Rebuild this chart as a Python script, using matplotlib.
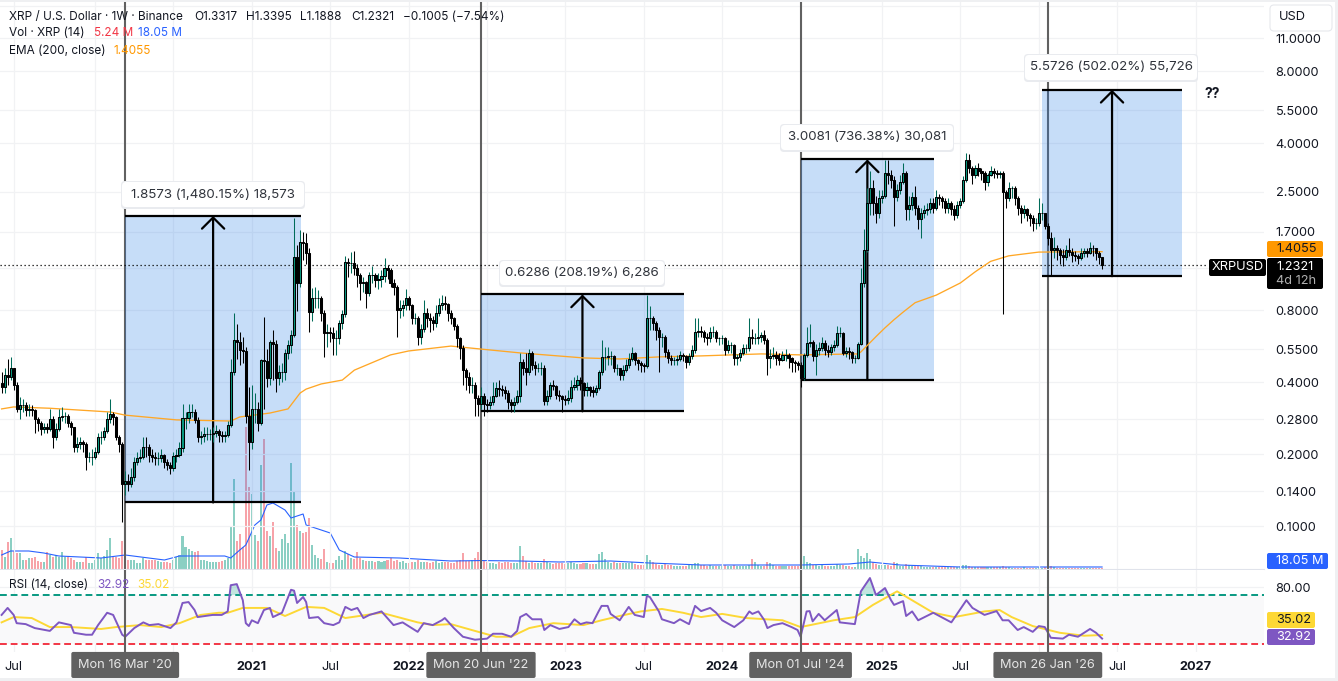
#!/usr/bin/env python
# XRP / USD weekly chart, with measure boxes, volume and RSI panes
import numpy as np
import pandas as pd
import matplotlib
matplotlib.use("Agg")
import matplotlib.pyplot as plt
from matplotlib.patches import Rectangle, FancyBboxPatch
from matplotlib.ticker import NullLocator

plt.rcParams["font.family"] = ["Inter", "DejaVu Sans"]

# weekly bars start here
start_date = "2019-06-03"
first_open = 0.395

closes = [
    .38,.43,.42,.46,.39,.31,.32,.32,.305,.31,
    .305,.28,.27,.255,.26,.255,.28,.235,.255,.285,
    .29,.29,.27,.26,.215,.22,.225,.22,.195,.195,
    .195,.205,.235,.235,.25,.28,.295,.285,.235,.22,
    .15,.155,.15,.16,.185,.193,.195,.215,.214,.198,
    .195,.193,.193,.198,.185,.18,.175,.196,.198,.212,
    .283,.283,.30,.30,.278,.235,.238,.243,.243,.243,
    .245,.25,.24,.238,.24,.265,.44,.60,.59,.545,
    .54,.29,.225,.31,.31,.27,.495,.49,.415,.59,
    .58,.415,.44,.44,.53,.57,.63,1.33,1.04,1.54,
    1.53,1.39,.785,.90,.90,.90,.78,.64,.65,.64,
    .61,.61,.71,.77,1.27,1.26,1.26,1.20,1.12,1.04,
    1.05,.945,1.12,1.12,1.07,1.08,1.11,1.20,1.18,1.04,
    1.0,.80,.82,.84,.90,.84,.745,.745,.62,.67,
    .78,.74,.73,.71,.78,.84,.855,.85,.78,.74,
    .69,.61,.555,.45,.42,.39,.39,.343,.325,.35,
    .323,.32,.33,.35,.377,.375,.37,.36,.33,.32,
    .33,.35,.485,.46,.44,.53,.47,.46,.46,.46,
    .335,.35,.39,.385,.355,.35,.34,.338,.343,.38,
    .39,.41,.395,.37,.38,.37,.365,.378,.44,.51,
    .51,.515,.515,.46,.46,.43,.45,.47,.50,.53,
    .495,.48,.47,.465,.74,.74,.71,.66,.62,.62,
    .535,.505,.495,.495,.50,.52,.515,.485,.515,.545,
    .65,.655,.65,.62,.61,.65,.65,.61,.61,.61,
    .545,.57,.57,.505,.51,.53,.555,.555,.615,.61,
    .61,.62,.63,.60,.505,.515,.52,.505,.495,.52,
    .52,.505,.485,.48,.47,.415,.52,.585,.59,.515,
    .545,.555,.585,.545,.535,.56,.57,.645,.645,.53,
    .54,.535,.505,.505,.58,1.04,1.43,2.25,2.6,2.25,
    2.05,2.35,2.4,3.0,2.95,2.8,2.38,2.55,2.75,3.0,
    2.13,2.2,2.38,2.15,1.92,2.05,2.1,2.13,2.25,2.15,
    2.38,2.35,2.3,2.15,2.25,2.13,2.0,2.2,2.3,2.8,
    3.4,3.15,2.95,3.15,3.05,3.0,2.75,2.95,3.05,3.0,
    2.98,3.0,2.5,2.35,2.6,2.6,2.35,2.15,2.05,2.12,
    2.0,1.95,1.85,1.85,2.05,2.05,1.8,1.6,1.43,1.45,
    1.43,1.36,1.33,1.43,1.4,1.36,1.35,1.32,1.39,1.41,
    1.39,1.46,1.45,1.39,1.3326,1.2321,
]
highs = [
    .44,.46,.50,.51,.46,.40,.345,.34,.33,.325,
    .32,.31,.285,.275,.27,.27,.31,.29,.27,.31,
    .315,.30,.295,.275,.26,.235,.235,.23,.225,.205,
    .21,.215,.245,.25,.26,.30,.34,.30,.29,.24,
    .225,.17,.165,.175,.195,.205,.21,.235,.235,.22,
    .21,.205,.205,.21,.20,.19,.185,.205,.21,.225,
    .325,.30,.325,.325,.31,.285,.25,.26,.26,.255,
    .26,.265,.255,.25,.25,.275,.50,.78,.70,.65,
    .62,.56,.38,.39,.36,.33,.50,.75,.55,.60,
    .66,.60,.47,.48,.55,.60,.66,1.95,1.50,1.73,
    1.70,1.68,1.45,.99,1.0,.97,.92,.80,.70,.68,
    .68,.66,.73,.80,1.35,1.32,1.40,1.42,1.25,1.15,
    1.10,1.06,1.16,1.22,1.15,1.15,1.18,1.32,1.24,1.20,
    1.08,1.02,.88,.88,.98,.92,.85,.78,.76,.70,
    .88,.82,.78,.76,.84,.90,.93,.92,.86,.80,
    .75,.70,.62,.57,.46,.44,.42,.40,.355,.38,
    .36,.34,.35,.40,.40,.41,.39,.385,.37,.34,
    .345,.37,.53,.50,.53,.55,.54,.49,.48,.485,
    .47,.37,.40,.41,.39,.37,.355,.355,.37,.41,
    .42,.43,.42,.40,.40,.385,.385,.39,.45,.60,
    .56,.56,.54,.52,.475,.46,.47,.50,.53,.56,
    .535,.50,.49,.48,.93,.83,.76,.72,.68,.64,
    .63,.55,.52,.51,.52,.54,.53,.52,.53,.57,
    .74,.74,.69,.66,.64,.68,.69,.66,.62,.63,
    .62,.60,.59,.58,.525,.55,.575,.58,.74,.67,
    .64,.74,.65,.66,.61,.55,.56,.54,.53,.54,
    .55,.53,.51,.495,.49,.485,.53,.68,.70,.60,
    .58,.59,.62,.60,.57,.58,.60,.69,.68,.65,
    .56,.56,.54,.52,.59,1.2,1.75,2.6,3.05,2.8,
    2.4,2.55,2.55,3.4,3.4,3.1,2.9,2.7,2.95,3.3,
    3.05,2.4,2.5,2.65,2.2,2.15,2.2,2.25,2.35,2.35,
    2.55,2.45,2.4,2.35,2.35,2.3,2.2,2.3,2.35,2.9,
    3.65,3.6,3.2,3.25,3.3,3.15,3.05,3.0,3.2,3.15,
    3.1,3.05,3.05,2.55,2.75,2.65,2.65,2.4,2.2,2.2,
    2.15,2.05,2.0,1.95,2.35,2.25,2.05,1.85,1.7,1.62,
    1.5,1.45,1.44,1.5,1.6,1.45,1.42,1.38,1.46,1.46,
    1.46,1.54,1.5,1.46,1.41,1.3395,
]
lows = [
    .36,.36,.39,.41,.37,.30,.28,.30,.29,.29,
    .29,.245,.25,.24,.245,.245,.25,.213,.23,.25,
    .275,.27,.26,.24,.205,.205,.21,.205,.172,.185,
    .18,.19,.20,.22,.23,.245,.27,.265,.23,.205,
    .104,.135,.14,.145,.155,.18,.185,.19,.195,.185,
    .185,.18,.18,.185,.175,.172,.165,.17,.185,.195,
    .205,.255,.27,.285,.27,.225,.22,.225,.23,.23,
    .225,.235,.225,.225,.225,.235,.26,.43,.50,.47,
    .48,.27,.172,.21,.27,.25,.265,.31,.38,.39,
    .41,.365,.39,.40,.41,.50,.53,.62,.79,1.0,
    1.3,1.25,.65,.72,.82,.82,.72,.51,.56,.59,
    .52,.52,.58,.67,.75,1.1,1.15,1.12,1.0,.88,
    .95,.82,.92,1.04,1.0,.98,1.0,1.05,1.08,1.0,
    .93,.62,.74,.76,.80,.80,.70,.70,.57,.58,
    .65,.68,.65,.66,.68,.76,.80,.80,.72,.70,
    .66,.56,.50,.39,.37,.36,.36,.29,.29,.31,
    .29,.30,.31,.32,.345,.35,.35,.34,.31,.30,
    .30,.325,.33,.43,.39,.43,.45,.43,.44,.43,
    .32,.32,.34,.37,.34,.335,.30,.32,.325,.33,
    .37,.37,.37,.35,.35,.35,.345,.355,.37,.43,
    .45,.47,.47,.44,.43,.41,.41,.44,.46,.49,
    .47,.45,.44,.44,.46,.66,.66,.60,.44,.56,
    .51,.48,.47,.47,.47,.49,.49,.46,.47,.50,
    .53,.62,.62,.59,.57,.59,.62,.59,.57,.58,
    .52,.53,.53,.47,.47,.49,.52,.53,.54,.58,
    .58,.58,.59,.58,.43,.46,.50,.47,.47,.49,
    .49,.46,.44,.44,.45,.38,.41,.51,.56,.49,
    .43,.52,.54,.52,.51,.52,.54,.56,.62,.52,
    .51,.50,.48,.48,.50,.57,1.0,1.4,2.0,2.0,
    1.85,1.95,2.25,2.35,2.7,2.6,1.8,2.3,2.45,2.7,
    1.9,1.9,2.1,2.0,1.75,1.6,1.95,2.0,2.05,2.05,
    2.1,2.2,2.15,2.05,2.05,2.0,1.9,1.95,2.15,2.25,
    2.75,3.0,2.7,2.85,2.9,2.8,2.55,2.65,2.9,2.85,
    2.85,2.85,.77,2.15,2.3,2.35,2.2,2.0,1.85,1.95,
    1.88,1.8,1.72,1.75,1.8,1.9,1.75,1.5,1.11,1.32,
    1.3,1.25,1.22,1.3,1.35,1.27,1.28,1.25,1.3,1.33,
    1.33,1.37,1.35,1.3,1.25,1.1888,
]
# weekly volume, millions
volumes = [
    171,110,246,276,165,140,140,80,85,95,
    100,110,70,66,66,153,125,110,125,110,
    150,110,110,95,80,66,66,66,105,50,
    50,80,140,95,120,170,280,110,110,100,
    252,140,85,80,80,50,55,95,80,80,
    80,80,70,60,65,65,55,80,110,125,
    297,195,183,165,150,160,85,80,70,66,
    66,66,60,70,80,95,381,810,255,312,
    200,1281,741,675,306,250,936,1170,345,300,
    426,186,160,270,315,231,951,696,396,342,
    327,336,456,216,126,96,90,177,60,50,
    50,80,120,80,165,135,100,90,153,100,
    80,75,70,75,65,70,60,70,85,95,
    75,85,65,70,55,55,60,65,80,60,
    65,60,55,60,70,55,60,65,60,55,
    55,70,85,141,75,70,80,100,150,85,
    70,60,55,50,45,60,55,60,65,50,
    50,55,207,120,70,55,60,55,50,50,
    90,65,50,45,50,50,55,45,50,60,
    55,45,45,50,50,45,45,45,135,156,
    90,60,55,60,55,50,50,55,50,60,
    45,40,35,40,126,85,60,45,40,40,
    50,40,35,30,30,25,30,30,35,40,
    50,55,40,35,30,35,30,25,25,25,
    35,30,30,35,30,25,25,25,40,87,
    60,35,30,25,60,50,35,30,25,30,
    30,25,25,25,30,60,117,60,55,40,
    35,30,35,30,25,30,25,45,35,40,
    25,25,20,20,177,117,100,141,90,60,
    45,40,35,40,35,30,66,50,30,30,
    45,40,30,25,25,25,20,20,20,20,
    20,20,20,20,20,20,18,18,25,40,
    38,28,22,20,18,18,18,20,22,20,
    18,18,28,18,15,12,10,10,12,15,
    10,12,12,12,15,10,15,60,25,15,
    12,10,10,10,10,10,8,8,8,8,
    8,8,6,6,6,5.24,
]

# lines read at their turning points: week number and value
ema_weeks = [0,4,16,36,41,58,76,79,89,95,99,101,106,113,117,129,135,149,159,172,193,205,218,232,252,265,284,285,290,293,296,299,303,310,318,323,328,334,344,365]
ema_values = [.309,.315,.311,.30,.291,.278,.275,.286,.297,.309,.36,.374,.393,.408,.449,.52,.54,.566,.55,.53,.505,.50,.51,.515,.525,.52,.525,.535,.62,.675,.73,.785,.86,.925,1.04,1.16,1.28,1.35,1.40,1.4055]

vol_ma_weeks = [0,3,9,14,19,33,41,54,59,74,76,79,81,84,86,88,90,94,96,100,101,109,112,117,132,149,159,172,185,202,215,232,265,281,288,298,318,347,365]
vol_ma_values = [126,162,162,144,117,99,126,81,117,117,99,171,216,396,441,576,594,531,459,495,396,324,171,108,99,72,76,72,63,72,54,36,36,45,63,36,18,18,18.05]

rsi_weeks = [0,2,4,5,8,11,16,19,23,24,28,30,32,35,37,40,41,44,47,49,52,56,58,60,62,64,65,70,73,75,76,78,80,81,82,83,85,87,89,90,93,96,97,98,100,101,102,105,107,110,112,114,116,118,120,122,126,130,133,138,140,143,146,147,150,153,157,161,163,166,169,171,172,174,176,179,180,182,185,188,190,192,194,196,198,199,201,202,205,208,210,213,214,215,218,219,223,225,228,230,232,235,237,239,243,246,248,249,251,253,254,256,259,262,264,265,267,268,269,271,273,277,278,283,285,288,290,293,295,296,299,300,302,304,309,315,320,322,326,330,332,334,337,339,342,344,346,348,352,354,357,359,361,363,365]
rsi_values = [49.6,56,49.6,43,42.3,39.5,37.6,43.6,41.6,36.4,35.2,35.2,41.6,51.5,49.6,35.2,34,39.5,43.6,41.6,42.3,39.5,43.6,61,62,54,47.8,49.6,49.6,52.7,83,84.6,64,43,40.9,45.2,43,54,56,47.8,51.5,76.7,75.5,61,67.7,62,47,47.8,43,41.6,43.6,57,54,56,47,49.6,52.7,41.6,43.6,37,43,41.6,45.2,47,39.5,34,32.3,32.9,35.8,35.8,34,37.6,47.8,50.5,46,46,38.2,41.6,38.9,40.2,46,42.3,43.6,43,52.7,58,58,50.5,45.2,57,49.6,47.8,68.9,67.7,52.7,46,43,46,42.3,58,53,56,51.5,45.2,40.2,45.2,52.7,50.5,52.7,45.2,39.5,41.6,43,40.2,38.2,34,52.7,53,44.4,50.5,45.2,54,43.6,42.3,74.6,94,70,79,64,59,63,48.7,52.7,45.2,51.5,43.6,64,56,49.6,53,45.2,45.2,38.2,40.2,37,40.9,40.2,33.4,32.9,35.2,34,36.4,38.9,36.4,32.92]

rsi_ma_weeks = [0,4,10,16,23,33,38,46,53,59,66,72,75,80,88,94,101,107,114,126,138,143,149,157,164,169,175,183,193,199,205,212,219,226,232,239,247,259,265,276,283,289,297,309,316,326,331,335,342,351,359,365]
rsi_ma_values = [43.6,47.8,47,40.2,40.2,38.9,40.2,41.6,40.2,43,49.6,51.5,51.5,56,56,48.7,57,56,47,51.5,43.6,41.6,42.3,37.6,34,34,39.5,43,41.6,45.2,48.7,52.7,55,51.5,47.8,50.5,47,45.2,40.2,45.2,47.8,59,74.6,51.5,47.8,52.7,54,47.8,40.9,36.4,34.6,35.02]

# measure tool boxes: first week, last week, base price, top price
measure_starts = [41, 159, 265, 345.1]
measure_ends = [99.3, 226.3, 309.3, 391.5]
measure_bases = [.12548, .30194, .4085, 1.1100]
measure_tops = [1.9828, .9305, 3.4166, 6.6826]
measure_labels = ["1.8573 (1,480.15%) 18,573", "0.6286 (208.19%) 6,286",
                  "3.0081 (736.38%) 30,081", "5.5726 (502.02%) 55,726"]

event_dates = ["2020-03-16", "2022-06-20", "2024-07-01", "2026-01-26"]
event_labels = ["Mon 16 Mar '20", "Mon 20 Jun '22", "Mon 01 Jul '24", "Mon 26 Jan '26"]

price_ticks = [15, 11, 8, 5.5, 4, 2.5, 1.7, 1.2, .8, .55, .4, .28, .2, .14, .1]
price_tick_labels = ["", "11.0000", "8.0000", "5.5000", "4.0000", "2.5000", "1.7000", "",
                     "0.8000", "0.5500", "0.4000", "0.2800", "0.2000", "0.1400", "0.1000"]
time_ticks = ["2019-07-01", "2020-01-06", "2020-07-06", "2021-01-04", "2021-07-05", "2022-01-03",
              "2022-07-04", "2023-01-02", "2023-07-03", "2024-01-01", "2024-07-01", "2025-01-06",
              "2025-07-07", "2026-01-05", "2026-07-06", "2027-01-04"]
# blanks are the ticks that sit under the date tags
time_labels = ["Jul", "", "", "2021", "Jul", "2022", "", "2023", "Jul", "2024", "",
               "2025", "Jul", "", "Jul", "2027"]

W, H = 1338, 681
INK = "#131722"
TEAL = "#089981"
RED = "#f23645"
BLUE = "#2962ff"
PURPLE = "#7e57c2"
YELLOW = "#fdd835"
ORANGE = "#ff9800"
GRID = "#f1f2f4"
TAG_GREY = "#616161"


def to_week(d):
    return (pd.Timestamp(d) - pd.Timestamp(start_date)).days / 7


def pane(x0, y0, x1, y1, **kw):
    # axes placed by its pixel box, y measured from the top
    return fig.add_axes([x0 / W, 1 - y1 / H, (x1 - x0) / W, (y1 - y0) / H], **kw)


fig = plt.figure(figsize=(W / 100, H / 100), dpi=100, facecolor="white")

week_min, week_max = -0.53, 418.7
weeks = np.arange(len(closes))
c = np.array(closes)
o = np.array([first_open] + closes[:-1])
hi = np.array(highs)
lo = np.array(lows)
up = c >= o

time_pos = [to_week(d) for d in time_ticks]
event_pos = [to_week(d) for d in event_dates]

# volume sits under the price candles, same pixel box
vol_ax = pane(0, 0, 1264, 569, zorder=1)
vol_ax.set_xlim(week_min, week_max)
vol_ax.set_ylim(0, 5121)
vol_ax.axis("off")
vol_ax.bar(weeks, volumes, width=0.68, linewidth=0,
           color=["#8bcfc3" if u else "#f7a3a9" for u in up])
vol_ax.plot(vol_ma_weeks, vol_ma_values, color=BLUE, lw=0.8)

# price pane
ax = pane(0, 0, 1264, 569, zorder=2)
ax.patch.set_visible(False)
ax.set_yscale("log")
ax.set_xlim(week_min, week_max)
ax.set_ylim(0.0661, 15.88)
ax.yaxis.tick_right()
ax.set_yticks(price_ticks, price_tick_labels)
ax.yaxis.set_minor_locator(NullLocator())
ax.set_xticks(time_pos, [""] * len(time_pos))
ax.tick_params(length=0, labelsize=9.2, labelcolor=INK, pad=8.4)
ax.grid(True, color=GRID, lw=0.9)
ax.set_axisbelow(True)
for s in ax.spines.values():
    s.set_visible(False)
ax.spines["bottom"].set_visible(True)
ax.spines["bottom"].set_color("#e0e3eb")

for w in event_pos:
    ax.axvline(w, color=TAG_GREY, lw=1.5, zorder=1.2)

# blue measure boxes with the long arrow
for x0, x1, base, top_price in zip(measure_starts, measure_ends, measure_bases, measure_tops):
    ax.add_patch(Rectangle((x0, base), x1 - x0, top_price - base, fc="#1e78e6", alpha=0.25, lw=0, zorder=1.5))
    ax.plot([x0, x1], [top_price, top_price], color="black", lw=1.6, zorder=2.2, solid_capstyle="butt")
    ax.plot([x0, x1], [base, base], color="black", lw=1.6, zorder=2.2, solid_capstyle="butt")
    mid = (x0 + x1) / 2
    ax.annotate("", xy=(mid, top_price), xytext=(mid, base), zorder=2.3,
                arrowprops=dict(arrowstyle="->,head_length=0.8,head_width=0.8", mutation_scale=10,
                                color="black", lw=1.6, shrinkA=0, shrinkB=0))

ax.plot(ema_weeks, ema_values, color="#ffa726", lw=0.95, zorder=2.6)
ax.axhline(closes[-1], xmax=1207 / 1264, color="black", lw=0.9, ls=(0, (1, 2.2)), zorder=2.5)

# candles
ax.vlines(weeks[up], lo[up], hi[up], color="#006b59", lw=0.75, zorder=3)
ax.vlines(weeks[~up], lo[~up], hi[~up], color="black", lw=0.75, zorder=3)
ax.bar(weeks[up], np.abs(c - o)[up], bottom=np.minimum(c, o)[up], width=0.7,
       color=TEAL, edgecolor="black", linewidth=0.75, zorder=3.2)
ax.bar(weeks[~up], np.abs(c - o)[~up], bottom=np.minimum(c, o)[~up], width=0.7,
       color="black", edgecolor="black", linewidth=0.75, zorder=3.2)

# RSI pane
rsi_ax = pane(0, 570, 1264, 652, zorder=3)
rsi_ax.set_yscale("log")
rsi_ax.set_xlim(week_min, week_max)
rsi_ax.set_ylim(26.1, 108)
rsi_ax.yaxis.tick_right()
rsi_ax.set_yticks([80, 40], ["80.00", ""])
rsi_ax.yaxis.set_minor_locator(NullLocator())
rsi_ax.set_xticks(time_pos, time_labels)
rsi_ax.tick_params(length=0, labelsize=9.2, labelcolor=INK)
rsi_ax.tick_params(axis="y", pad=8.4)
rsi_ax.tick_params(axis="x", pad=6.5)
for lab, txt in zip(rsi_ax.get_xticklabels(), time_labels):
    if txt.isdigit():
        lab.set_fontweight("bold")
rsi_ax.grid(True, color=GRID, lw=0.9)
rsi_ax.set_axisbelow(True)
for s in rsi_ax.spines.values():
    s.set_visible(False)

rsi_ax.axhspan(30, 70, color="#f9f9fa", lw=0, zorder=0.8)
rsi_ax.axhline(70, color=TEAL, lw=1.4, ls=(0, (3.5, 2)), zorder=1.5)
rsi_ax.axhline(30, color=RED, lw=1.4, ls=(0, (3.5, 2)), zorder=1.5)
rsi_ax.fill_between(rsi_weeks, 70, rsi_values, where=np.array(rsi_values) > 70, interpolate=True,
                    color=TEAL, alpha=0.25, lw=0, zorder=1.6)
rsi_ax.plot(rsi_ma_weeks, rsi_ma_values, color=YELLOW, lw=1.4, zorder=2)
rsi_ax.plot(rsi_weeks, rsi_values, color=PURPLE, lw=1.4, zorder=2.1)

for w, txt in zip(event_pos, event_labels):
    rsi_ax.axvline(w, color=TAG_GREY, lw=1.5, zorder=2.2)
    rsi_ax.text(w, -0.158, txt, transform=rsi_ax.get_xaxis_transform(), ha="center", va="center",
                color="#e6e6e6", fontsize=9.2, zorder=6, clip_on=False,
                bbox=dict(boxstyle="round,pad=0.55,rounding_size=0.15", fc=TAG_GREY, ec="none"))

# texts and price tags drawn over everything, in pixels
top = fig.add_axes([0, 0, 1, 1], zorder=10)
top.set_xlim(0, W)
top.set_ylim(H, 0)
top.axis("off")


def pill(x0, y0, x1, y1, color, zorder=11, ec="none", r=2):
    top.add_patch(FancyBboxPatch((x0, y0), x1 - x0, y1 - y0, boxstyle=f"round,pad=0,rounding_size={r}",
                                 fc=color, ec=ec, lw=0.8, zorder=zorder))


def label(x, y, s, color=INK, size=9.2, ha="left", **kw):
    top.text(x, y, s, color=color, fontsize=size, ha=ha, va="center", zorder=12, **kw)


# legends
LEGEND_SIZE = 8.5
label(9, 17, "XRP / U.S. Dollar · 1W · Binance", size=LEGEND_SIZE)
label(194, 17, "O1.3317", size=LEGEND_SIZE)
label(246, 17, "H1.3395", size=LEGEND_SIZE)
label(300, 17, "L1.1888", size=LEGEND_SIZE)
label(351, 17, "C1.2321", size=LEGEND_SIZE)
label(403, 17, "−0.1005 (−7.54%)", size=LEGEND_SIZE)
label(9, 33.5, "Vol · XRP (14)", size=LEGEND_SIZE)
label(94, 33.5, "5.24 M", color=RED, size=LEGEND_SIZE)
label(138, 33.5, "18.05 M", color=BLUE, size=LEGEND_SIZE)
label(9, 50.5, "EMA (200, close)", size=LEGEND_SIZE)
label(113, 50.5, "1.4055", color=ORANGE, size=LEGEND_SIZE)
label(9, 585.5, "RSI (14, close)", size=LEGEND_SIZE)
label(97, 585.5, "32.92", color=PURPLE, size=LEGEND_SIZE)
label(137, 585.5, "35.02", color=YELLOW, size=LEGEND_SIZE)

# measure callouts
callout_boxes = [(122, 182, 304, 207), (500, 261, 664, 285), (781, 125, 953, 150), (1025, 55, 1197, 80)]
for (x0, y0, x1, y1), txt in zip(callout_boxes, measure_labels):
    pill(x0 - 1, y0 - 1, x1 + 1, y1 + 2, "#e9ebef", zorder=11, r=4)
    pill(x0, y0, x1, y1, "white", zorder=11.1, r=4)
    label((x0 + x1) / 2, (y0 + y1) / 2, txt, color="#2f333b", size=9.6, ha="center")

label(1212, 94, "??", color="#131722", size=10, fontweight="bold", ha="center")

# scale tags
pill(1266, 0, 1334, 34, "white", r=0)
pill(1270, 5, 1332, 31, "white", ec="#e6e8ec", r=4)
label(1279, 17.5, "USD")
pill(1267, 241, 1323, 257, ORANGE)
label(1276, 249.5, "1.4055")
pill(1209, 259, 1266, 276, "black")
label(1237.5, 267.5, "XRPUSD", color="white", ha="center")
pill(1267, 258, 1323, 289, "black")
label(1276, 267, "1.2321", color="white")
label(1276, 281, "4d 12h", color="#b0b0b0")
pill(1267, 553, 1328, 569, BLUE)
label(1276, 561, "18.05 M", color="white")
pill(1267, 612, 1315, 628, YELLOW)
label(1276, 620, "35.02")
pill(1267, 629, 1315, 645, PURPLE)
label(1276, 637.5, "32.92", color="white")

# thin grey window edge
top.add_patch(Rectangle((0, 0), W, 2, fc="#eff0f2", lw=0, zorder=13))
top.add_patch(Rectangle((W - 3, 0), 3, H, fc="#eff0f2", lw=0, zorder=13))
top.add_patch(Rectangle((0, H - 3), W, 3, fc="#eff0f2", lw=0, zorder=13))

fig.savefig("out.png", dpi=100)
